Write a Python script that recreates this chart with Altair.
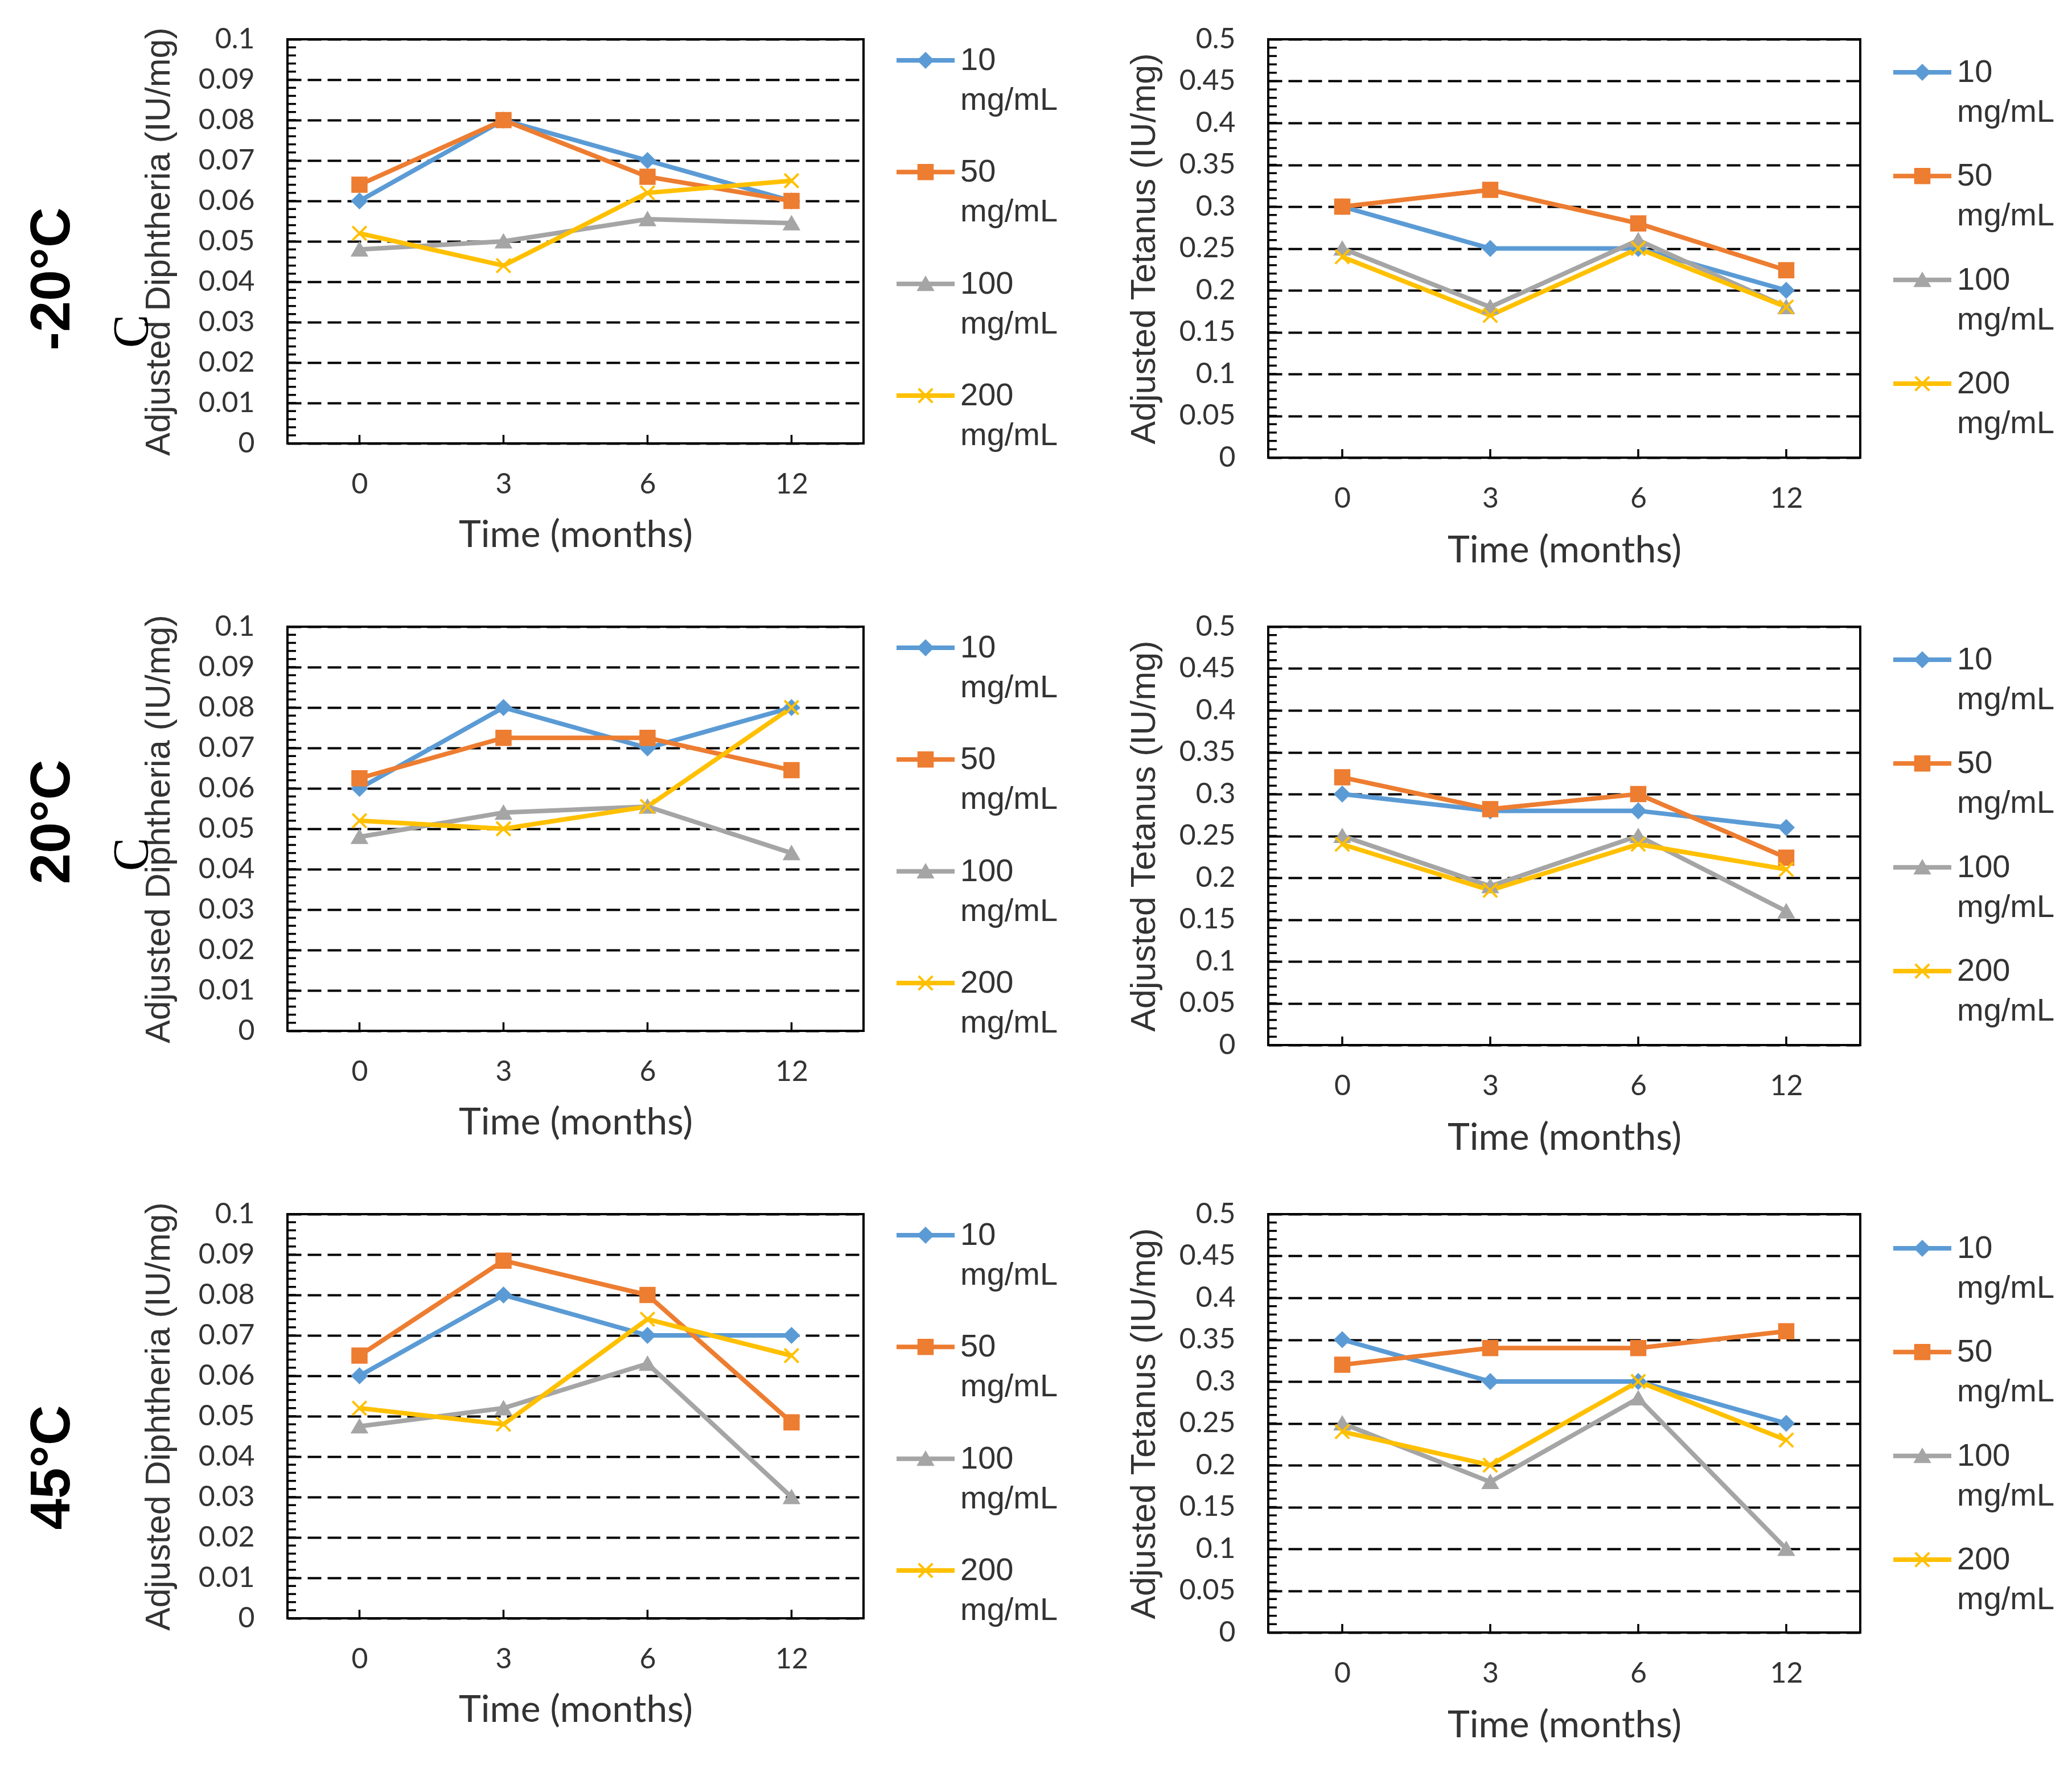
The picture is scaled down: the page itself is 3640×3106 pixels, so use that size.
import altair as alt
import pandas as pd

# ---------------- data ----------------
times = ["0", "3", "6", "12"]
concs = ["10 mg/mL", "50 mg/mL", "100 mg/mL", "200 mg/mL"]
colors = ["#5B9BD5", "#ED7D31", "#A5A5A5", "#FFC000"]
shapes = ["diamond", "square", "triangle-up", "M-1,-1L1,1M-1,1L1,-1"]

# each list: one series per concentration (10, 50, 100, 200 mg/mL), values at 0, 3, 6, 12 months
diph_m20 = [[0.060, 0.080, 0.070, 0.060],
            [0.064, 0.080, 0.066, 0.060],
            [0.048, 0.050, 0.0555, 0.0545],
            [0.052, 0.044, 0.062, 0.065]]
tet_m20 = [[0.30, 0.25, 0.25, 0.20],
           [0.30, 0.32, 0.28, 0.224],
           [0.25, 0.18, 0.26, 0.18],
           [0.24, 0.17, 0.25, 0.18]]
diph_20 = [[0.060, 0.080, 0.070, 0.080],
           [0.0625, 0.0725, 0.0725, 0.0645],
           [0.048, 0.054, 0.0555, 0.044],
           [0.052, 0.050, 0.0555, 0.080]]
tet_20 = [[0.30, 0.28, 0.28, 0.26],
          [0.32, 0.282, 0.30, 0.224],
          [0.25, 0.19, 0.25, 0.16],
          [0.24, 0.185, 0.24, 0.21]]
diph_45 = [[0.060, 0.080, 0.070, 0.070],
           [0.065, 0.0885, 0.080, 0.0485],
           [0.0475, 0.052, 0.063, 0.030],
           [0.052, 0.048, 0.074, 0.065]]
tet_45 = [[0.35, 0.30, 0.30, 0.25],
          [0.32, 0.34, 0.34, 0.36],
          [0.25, 0.18, 0.28, 0.10],
          [0.24, 0.20, 0.30, 0.23]]

diph_ticks = [0, 0.01, 0.02, 0.03, 0.04, 0.05, 0.06, 0.07, 0.08, 0.09, 0.1]
tet_ticks = [0, 0.05, 0.1, 0.15, 0.2, 0.25, 0.3, 0.35, 0.4, 0.45, 0.5]
diph_minor = [round(i * 0.002, 4) for i in range(51)]
tet_minor = [round(i * 0.01, 3) for i in range(51)]

row_labels = ["-20°C", "20°C", "45°C"]
diph_title = "Adjusted Diphtheria (IU/mg)"
tet_title = "Adjusted Tetanus (IU/mg)"
x_title = "Time (months)"

TXT = "#333333"
LABEL_FONT = "Lato"
TITLE_FONT = "Liberation Sans"

cscale = alt.Scale(domain=concs, range=colors)
sscale = alt.Scale(domain=concs, range=shapes)


def make_df(series):
    rows = []
    for c, vals in zip(concs, series):
        for t, v in zip(times, vals):
            rows.append({"t": t, "conc": c, "v": v})
    return pd.DataFrame(rows)


def panel(series, ymax, yticks, minor, ytitle, W, H, leg_y0, leg_y1,
          ytitle_x, xtitle_y, extras=()):
    df = make_df(series)

    def xs():
        return alt.Scale(type="point", domain=times, padding=0.5)

    def ys():
        return alt.Scale(domain=[0, ymax], nice=False, zero=True)

    x_axis = alt.Axis(labelAngle=0, ticks=False, tickSize=0, domain=False, grid=False,
                      labelFont=LABEL_FONT, labelFontSize=50, labelColor=TXT,
                      labelPadding=72, labelBaseline="middle",
                      title=x_title, titleFont=LABEL_FONT, titleFontSize=66,
                      titleFontWeight="normal", titleColor=TXT,
                      titleX=W / 2, titleY=xtitle_y, titleBaseline="middle")
    y_axis = alt.Axis(values=yticks, format="~g", grid=True, gridDash=[24, 11],
                      gridColor="black", gridWidth=4, ticks=False, tickSize=0,
                      domain=False, labelFont=LABEL_FONT, labelFontSize=50,
                      labelColor=TXT, labelPadding=58, labelFlush=False,
                      labelOverlap=False,
                      title=ytitle, titleFont=TITLE_FONT, titleFontSize=61,
                      titleFontWeight="normal", titleColor=TXT,
                      titleX=ytitle_x, titleY=H / 2, titleAngle=270,
                      titleBaseline="middle", titleAlign="center")

    color = alt.Color("conc:N", scale=cscale, legend=None)
    stroke = alt.Stroke("conc:N", scale=cscale, legend=None)
    shape = alt.Shape("conc:N", scale=sscale, legend=None)

    lines = alt.Chart(df).mark_line(strokeWidth=8).encode(
        x=alt.X("t:O", sort=times, scale=xs(), axis=x_axis),
        y=alt.Y("v:Q", scale=ys(), axis=y_axis),
        color=color,
    )
    points = alt.Chart(df).mark_point(filled=True, opacity=1, size=600, strokeWidth=4).encode(
        x=alt.X("t:O", sort=times, scale=xs(), axis=None),
        y=alt.Y("v:Q", scale=ys(), axis=None),
        color=color, stroke=stroke, shape=shape,
    )
    minor_rules = alt.Chart(pd.DataFrame({"m": minor})).mark_rule(
        color="black", strokeWidth=3.5).encode(
        y=alt.Y("m:Q", scale=ys(), axis=None),
        x=alt.value(0), x2=alt.value(15),
    )
    x_ticks = alt.Chart(pd.DataFrame({"t": times})).mark_rule(
        color="black", strokeWidth=3.5).encode(
        x=alt.X("t:O", sort=times, scale=xs(), axis=None),
        y=alt.value(H - 15), y2=alt.value(H),
    )

    ldf = pd.DataFrame({"conc": concs, "label": [c.replace(" ", "\n") for c in concs]})
    ly = alt.Y("conc:N", scale=alt.Scale(type="point", domain=concs,
                                          range=[leg_y0, leg_y1], padding=0), axis=None)
    leg_rule = alt.Chart(ldf).mark_rule(strokeWidth=8).encode(
        y=ly, x=alt.value(W + 58), x2=alt.value(W + 160), color=color)
    leg_pt = alt.Chart(ldf).mark_point(filled=True, opacity=1, size=600, strokeWidth=4).encode(
        y=ly, x=alt.value(W + 109), color=color, stroke=stroke, shape=shape)
    leg_txt = alt.Chart(ldf).mark_text(
        align="left", baseline="middle", lineBreak="\n", lineHeight=70,
        font=TITLE_FONT, fontSize=56, color=TXT).encode(
        y=ly, x=alt.value(W + 170), text="label:N")

    return alt.layer(lines, points, minor_rules, x_ticks, leg_rule, leg_pt, leg_txt,
                     *extras).resolve_scale(x="independent", y="independent").properties(
        width=W, height=H)


one = pd.DataFrame({"a": [0]})


def row_label(text, y):
    return alt.Chart(one).mark_text(
        text=text, angle=270, font=TITLE_FONT, fontSize=98, fontWeight="bold",
        color="black", align="center", baseline="middle").encode(
        x=alt.value(-412), y=alt.value(y))


def stray_c(y):
    return alt.Chart(one).mark_text(
        text="C", angle=270, font="Liberation Serif", fontSize=88,
        color="black", align="center", baseline="middle").encode(
        x=alt.value(-272), y=alt.value(y))


LW, LH = 1012, 710
RW, RH = 1040, 735

p1 = panel(diph_m20, 0.1, diph_ticks, diph_minor, diph_title, LW, LH, 37, 626, -226, 161,
           extras=(row_label(row_labels[0], 421), stray_c(513)))
p2 = panel(tet_m20, 0.5, tet_ticks, tet_minor, tet_title, RW, RH, 58, 605, -218, 163)
p3 = panel(diph_20, 0.1, diph_ticks, diph_minor, diph_title, LW, LH, 37, 626, -226, 161,
           extras=(row_label(row_labels[1], 343), stray_c(400)))
p4 = panel(tet_20, 0.5, tet_ticks, tet_minor, tet_title, RW, RH, 58, 605, -218, 163)
p5 = panel(diph_45, 0.1, diph_ticks, diph_minor, diph_title, LW, LH, 37, 626, -226, 161,
           extras=(row_label(row_labels[2], 445),))
p6 = panel(tet_45, 0.5, tet_ticks, tet_minor, tet_title, RW, RH, 60, 607, -218, 163)

chart = alt.concat(
    p1, p2, p3, p4, p5, p6, columns=2, bounds="flush",
    spacing=alt.RowColnumber(row=297, column=711),
).resolve_scale(
    x="independent", y="independent"
).properties(
    padding={"left": 34, "top": 34, "right": 10, "bottom": 10},
    background="white",
).configure_view(stroke="black", strokeWidth=4)

chart.save("out.html", embed_options={"renderer": "svg", "actions": False})
